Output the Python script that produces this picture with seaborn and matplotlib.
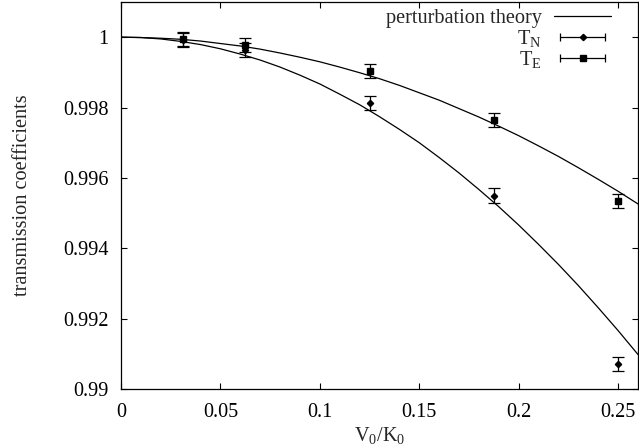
import numpy as np
import pandas as pd
import matplotlib
matplotlib.use("Agg")
import matplotlib.pyplot as plt
from matplotlib.lines import Line2D
from matplotlib.legend_handler import HandlerLine2D, HandlerTuple
import seaborn as sns

# Simulation results: transmission coefficients vs. V0/K0
v_ratio = [0.03125, 0.0625, 0.125, 0.1875, 0.25]
t_n = [0.99993, 0.99964, 0.99812, 0.99550, 0.99071]
t_e = [0.99995, 0.99977, 0.99905, 0.99765, 0.99535]
t_n_err = [0.0002, 0.0002, 0.0002, 0.0002, 0.0002]
t_e_err = [0.0002, 0.0002, 0.0002, 0.0002, 0.0002]

# Perturbation-theory predictions, sampled along V0/K0
theory_x = [0.00, 0.01, 0.02, 0.03, 0.04, 0.05, 0.06, 0.07, 0.08, 0.09,
            0.10, 0.11, 0.12, 0.13, 0.14, 0.15, 0.16, 0.17, 0.18, 0.19,
            0.20, 0.21, 0.22, 0.23, 0.24, 0.25, 0.26]
theory_e = [1.00000, 0.99999, 0.99997, 0.99994, 0.99989, 0.99982, 0.99975, 0.99966,
            0.99955, 0.99943, 0.99930, 0.99915, 0.99899, 0.99882, 0.99863, 0.99842,
            0.99821, 0.99797, 0.99773, 0.99747, 0.99720, 0.99691, 0.99661, 0.99629,
            0.99596, 0.99562, 0.99526]
theory_n = [1.00000, 0.99999, 0.99995, 0.99988, 0.99979, 0.99967, 0.99952, 0.99935,
            0.99915, 0.99892, 0.99867, 0.99838, 0.99808, 0.99774, 0.99738, 0.99700,
            0.99658, 0.99614, 0.99567, 0.99518, 0.99466, 0.99411, 0.99354, 0.99294,
            0.99231, 0.99166, 0.99098]

x_ticks = [0, 0.05, 0.1, 0.15, 0.2, 0.25]
x_tick_labels = ["0", "0.05", "0.1", "0.15", "0.2", "0.25"]
y_ticks = [0.99, 0.992, 0.994, 0.996, 0.998, 1.0]
y_tick_labels = ["0.99", "0.992", "0.994", "0.996", "0.998", "1"]

sns.set_theme(style="ticks")
plt.rcParams["font.family"] = ["Liberation Serif", "DejaVu Serif"]
plt.rcParams["mathtext.fontset"] = "custom"
plt.rcParams["mathtext.rm"] = "Liberation Serif"
plt.rcParams["mathtext.it"] = "Liberation Serif:italic"

fs = 14.6
fig = plt.figure(figsize=(6.39, 4.46), dpi=100)
ax = fig.add_axes([121 / 639, 1 - 389 / 446, (638 - 121) / 639, (389 - 2) / 446])

theory = pd.DataFrame({
    "x": theory_x * 2,
    "y": theory_e + theory_n,
    "curve": ["E"] * len(theory_x) + ["N"] * len(theory_x),
})
sns.lineplot(data=theory, x="x", y="y", units="curve", estimator=None,
             color="black", lw=0.9, ax=ax, legend=False)

ax.errorbar(v_ratio, t_n, yerr=t_n_err, fmt="D", ms=3.2, color="black",
            ecolor="black", elinewidth=0.9, capsize=4.5, capthick=0.9, zorder=3)
ax.errorbar(v_ratio, t_e, yerr=t_e_err, fmt="s", ms=5, color="black",
            ecolor="black", elinewidth=0.9, capsize=4.5, capthick=0.9, zorder=3)

ax.set_xlim(0, 0.26)
ax.set_ylim(0.99, 1.001)
ax.set_xticks(x_ticks)
ax.set_xticklabels(x_tick_labels)
ax.set_yticks(y_ticks)
ax.set_yticklabels(y_tick_labels)
ax.tick_params(direction="in", length=4.5, width=0.8, labelsize=fs,
               top=True, right=True, colors="black")
ax.tick_params(axis="x", pad=10)
ax.tick_params(axis="y", pad=9)
for s in ax.spines.values():
    s.set_visible(True)
    s.set_linewidth(0.9)
    s.set_color("black")

ax.set_xlabel(r"$\mathregular{V_0/K_0}$", fontsize=fs, labelpad=2)
ax.set_ylabel("transmission coefficients", fontsize=fs, labelpad=22)

# Legend in the gnuplot style: label on the left, sample on the right
theory_h = Line2D([], [], color="black", lw=0.9)
cap_n = Line2D([], [], color="black", lw=0.9, marker="|", ms=6, mew=0.9)
dot_n = Line2D([], [], color="black", lw=0, marker="D", ms=3.2)
cap_e = Line2D([], [], color="black", lw=0.9, marker="|", ms=6, mew=0.9)
dot_e = Line2D([], [], color="black", lw=0, marker="s", ms=5)
hmap = {cap_n: HandlerLine2D(numpoints=2), cap_e: HandlerLine2D(numpoints=2),
        dot_n: HandlerLine2D(numpoints=1), dot_e: HandlerLine2D(numpoints=1),
        tuple: HandlerTuple(ndivide=1)}
ax.legend([theory_h, (cap_n, dot_n), (cap_e, dot_e)],
          ["perturbation theory", r"$\mathregular{T_N}$", r"$\mathregular{T_E}$"],
          handler_map=hmap, loc="upper right", frameon=False, markerfirst=False,
          fontsize=fs, handlelength=2.8, handletextpad=0.6, labelspacing=0.0,
          borderaxespad=0.0, bbox_to_anchor=(1 - 19 / 517, 1.0 + 1 / 387))

fig.savefig("out.png", dpi=100)
